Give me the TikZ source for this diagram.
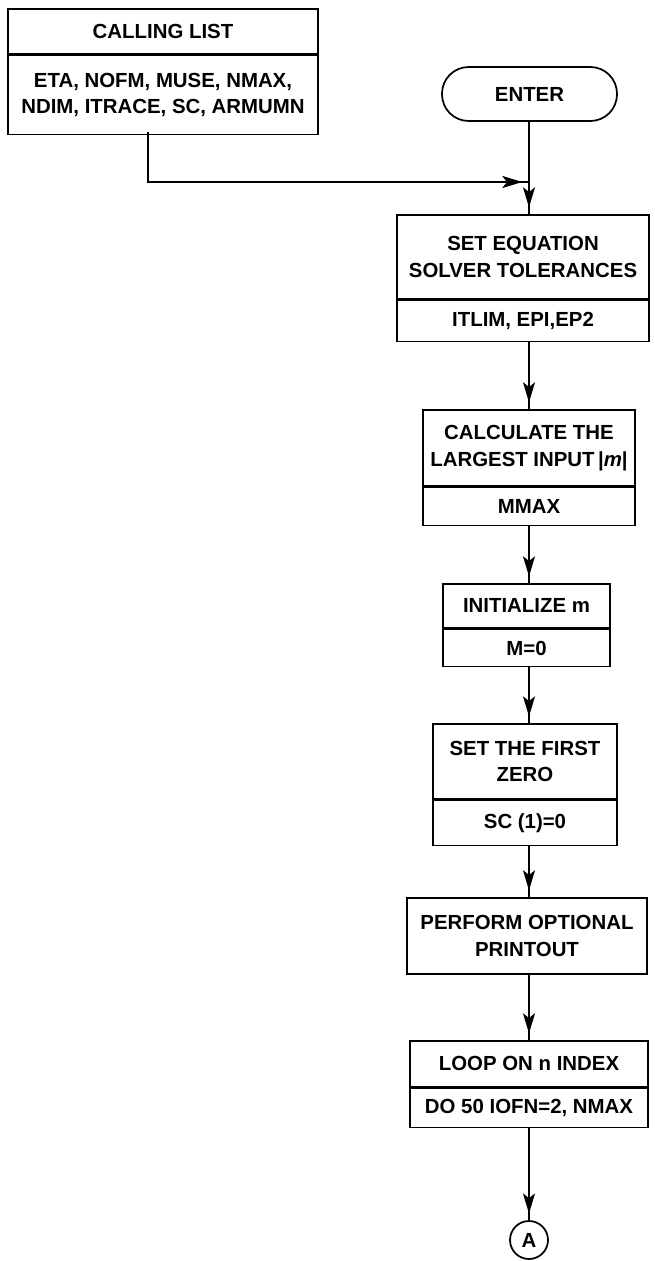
\documentclass[tikz,border=0pt]{standalone}
\usepackage{fontspec}
\setmainfont{Liberation Sans}
\usetikzlibrary{arrows.meta}
\usetikzlibrary{decorations.markings}

\begin{document}
\begin{tikzpicture}[x=0.75pt,y=0.75pt,yscale=-1,xscale=1,
  line width=1.3pt,
  every node/.style={font=\fontsize{15.3}{20}\selectfont\bfseries},
  blk/.style={draw, rectangle, inner sep=0pt, align=center, anchor=north},
  flow/.style={postaction={decorate}, decoration={markings, mark=at position -5pt with {\arrow{Stealth[length=15pt,width=9pt,inset=3.5pt]}}}}
]
\useasboundingbox (0,0) rectangle (655,1261);

%Coordinates
\coordinate (main) at (529,0);
\coordinate (tap) at (148,132);
\coordinate (junc) at (529,182);

% Text Node
\node [blk, minimum width=232.5pt, minimum height=33.75pt] (calllist) at (163,8) {CALLING LIST};
\node [blk, minimum width=232.5pt, minimum height=59.25pt] (calllistv) at (calllist.south) {ETA, NOFM, MUSE, NMAX,\\NDIM, ITRACE, SC, ARMUMN};
% Text Node
\node [draw, rounded corners=20pt, inner sep=0pt, minimum width=131.25pt, minimum height=40.5pt] (enter) at (529.5,94) {ENTER};
% Text Node
\node [blk, minimum width=189pt, minimum height=63pt] (seteq) at (523,214) {SET EQUATION\\SOLVER TOLERANCES};
\node [blk, minimum width=189pt, minimum height=30.75pt] (seteqv) at (seteq.south) {ITLIM, EPI,EP2};
% Text Node
\node [blk, minimum width=159pt, minimum height=57pt] (calc) at (529,409) {CALCULATE THE\\LARGEST INPUT\,|\textit{m}|};
\node [blk, minimum width=159pt, minimum height=28.5pt] (calcv) at (calc.south) {MMAX};
% Text Node
\node [blk, minimum width=125.25pt, minimum height=33pt] (init) at (526.5,583) {INITIALIZE m};
\node [blk, minimum width=125.25pt, minimum height=27.75pt] (initv) at (init.south) {M=0};
% Text Node
\node [blk, minimum width=138pt, minimum height=56.25pt] (firstzero) at (525,723) {SET THE FIRST\\ZERO};
\node [blk, minimum width=138pt, minimum height=33.75pt] (firstzerov) at (firstzero.south) {SC (1)=0};
% Text Node
\node [blk, minimum width=180pt, minimum height=57pt] (printout) at (527,897) {PERFORM OPTIONAL\\PRINTOUT};
% Text Node
\node [blk, minimum width=178.5pt, minimum height=34.5pt] (loopn) at (529,1040) {LOOP ON n INDEX};
\node [blk, minimum width=178.5pt, minimum height=29.25pt] (loopnv) at (loopn.south) {DO 50 IOFN=2, NMAX};
% Text Node
\node [draw, circle, inner sep=0pt, minimum size=28.5pt] (conA) at (529,1240) {A};

%Straight Lines
\draw [flow] (tap) |- (junc) ;
\draw [flow] (main |- enter.south) -- (main |- seteq.north) ;
\draw [flow] (main |- seteqv.south) -- (main |- calc.north) ;
\draw [flow] (main |- calcv.south) -- (main |- init.north) ;
\draw [flow] (main |- initv.south) -- (main |- firstzero.north) ;
\draw [flow] (main |- firstzerov.south) -- (main |- printout.north) ;
\draw [flow] (main |- printout.south) -- (main |- loopn.north) ;
\draw [flow] (main |- loopnv.south) -- (conA.north) ;

\end{tikzpicture}
\end{document}
